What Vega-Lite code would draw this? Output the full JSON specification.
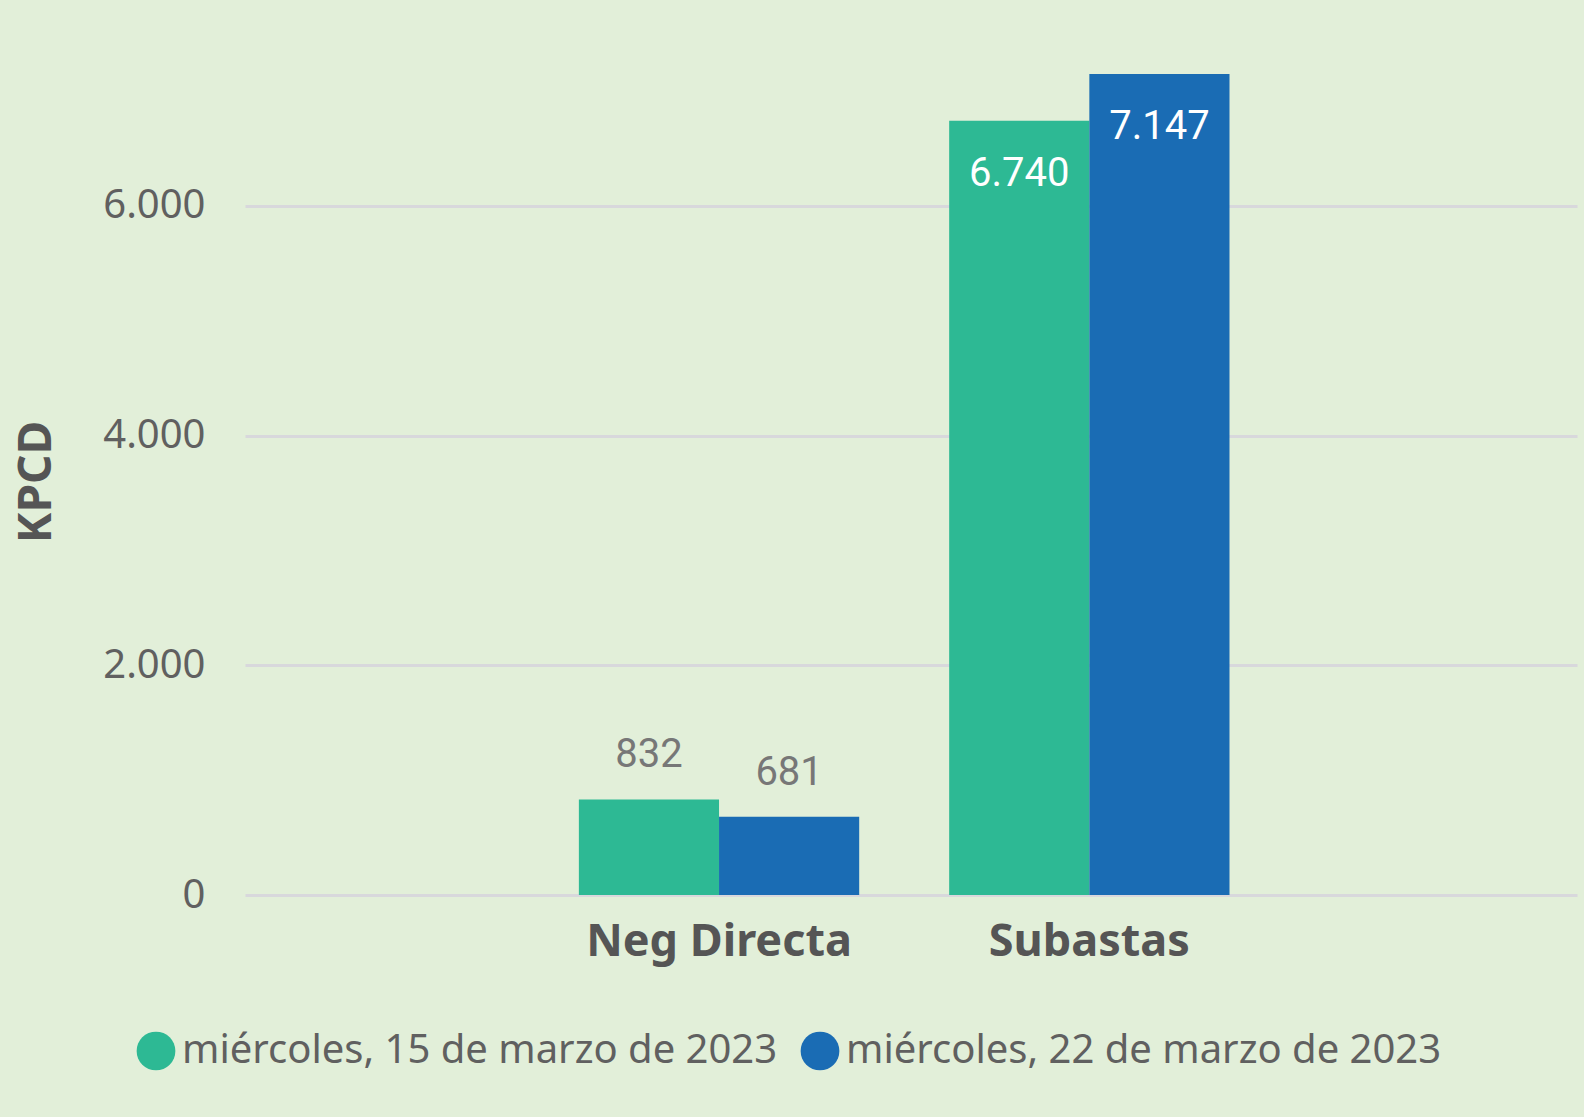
{
  "$schema": "https://vega.github.io/schema/vega-lite/v6.json",
  "autosize": {"type": "none"},
  "padding": {"left": 245, "top": 68, "right": 7, "bottom": 222},
  "width": 1332,
  "height": 827,
  "background": "#E2EFD9",
  "config": {
    "view": {"stroke": null},
    "locale": {"number": {"decimal": ",", "thousands": ".", "grouping": [3], "currency": ["", ""]}},
    "font": "Noto Sans"
  },
  "data": {
    "values": [
      {"categoria": "Neg Directa", "fecha": "miércoles, 15 de marzo de 2023", "kpcd": 832},
      {"categoria": "Neg Directa", "fecha": "miércoles, 22 de marzo de 2023", "kpcd": 681},
      {"categoria": "Subastas", "fecha": "miércoles, 15 de marzo de 2023", "kpcd": 6740},
      {"categoria": "Subastas", "fecha": "miércoles, 22 de marzo de 2023", "kpcd": 7147}
    ]
  },
  "encoding": {
    "x": {
      "field": "categoria", "type": "nominal", "sort": ["Neg Directa", "Subastas"],
      "scale": {"paddingInner": 0.243, "paddingOuter": 0.92, "align": 0.49},
      "axis": {
        "title": null, "labelAngle": 0, "domain": false, "ticks": false, "tickSize": 0,
        "labelFont": "Noto Sans", "labelFontWeight": "bold", "labelFontSize": 45,
        "labelColor": "#555555", "labelPadding": 24, "labelLimit": 1000, "labelDx": 7
      }
    },
    "xOffset": {"field": "fecha", "type": "nominal", "scale": {"paddingInner": 0, "paddingOuter": 0}},
    "y": {
      "field": "kpcd", "type": "quantitative",
      "scale": {"domain": [0, 7200], "nice": false},
      "axis": {
        "title": "KPCD", "values": [0, 2000, 4000, 6000], "format": ",d",
        "domain": false, "ticks": false, "tickSize": 0,
        "labelFontSize": 40, "labelColor": "#606060", "labelPadding": 40,
        "labelFont": "Noto Sans",
        "gridColor": "#D8D8DC", "gridWidth": 3,
        "titleFont": "Noto Sans", "titleFontSize": 46, "titleFontWeight": "bold",
        "titleColor": "#555555", "titlePadding": 42
      }
    }
  },
  "layer": [
    {
      "mark": {"type": "bar"},
      "encoding": {
        "color": {
          "field": "fecha", "type": "nominal",
          "scale": {"range": ["#2DB994", "#1A6CB4"]},
          "legend": {
            "title": null, "orient": "none", "direction": "horizontal", "columns": 2,
            "legendX": -109, "legendY": 963,
            "symbolType": "circle", "symbolSize": 1500, "symbolStrokeWidth": 0,
            "labelFontSize": 40, "labelColor": "#606060", "labelFont": "Noto Sans",
            "labelOffset": 6, "columnPadding": 22, "labelLimit": 1000
          }
        }
      }
    },
    {
      "transform": [{"filter": "datum.kpcd < 3000"}],
      "mark": {"type": "text", "baseline": "alphabetic", "dy": -32, "font": "Roboto", "fontSize": 40, "color": "#777777"},
      "encoding": {"text": {"field": "kpcd", "type": "quantitative", "format": ",d"}}
    },
    {
      "transform": [{"filter": "datum.kpcd >= 3000"}],
      "mark": {"type": "text", "baseline": "alphabetic", "dy": 65, "font": "Roboto", "fontSize": 40, "color": "#FFFFFF"},
      "encoding": {"text": {"field": "kpcd", "type": "quantitative", "format": ",d"}}
    }
  ]
}
